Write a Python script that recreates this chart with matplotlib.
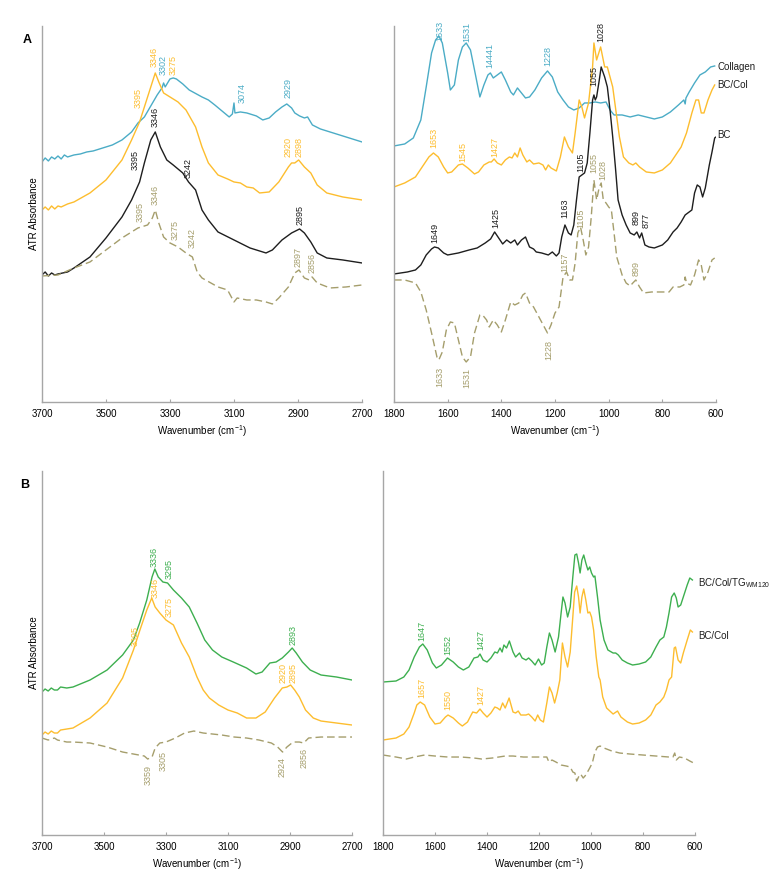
import matplotlib
matplotlib.use("Agg")
import matplotlib.pyplot as plt

plt.rcParams["font.family"] = ["Liberation Sans", "DejaVu Sans"]
plt.rcParams["mathtext.fontset"] = "custom"
plt.rcParams["mathtext.rm"] = "Liberation Sans"
plt.rcParams["mathtext.it"] = "Liberation Sans"

BLUE = "#4bacc6"
YELLOW = "#fdbd2e"
BLACK = "#1e1e1e"
OLIVE = "#a59e6c"
GREEN = "#3daf4f"
SPINE = "#a6a6a6"

# ---------------- panel A, 3700-2700 ----------------
a_hi_col_wn = [3700, 3690, 3680, 3670, 3660, 3650, 3640, 3630, 3620, 3600, 3580, 3560, 3540, 3520, 3500, 3480,
               3450, 3420, 3400, 3380, 3360, 3340, 3325, 3320, 3315, 3300, 3290, 3280, 3260, 3240, 3200, 3180,
               3160, 3130, 3115, 3105, 3100, 3097, 3080, 3060, 3030, 3010, 2990, 2970, 2950, 2935, 2920, 2910,
               2895, 2880, 2870, 2855, 2830, 2800, 2750, 2700]
a_hi_col = [240, 244, 241, 245, 243, 246, 243, 247, 245, 247, 248, 250, 251, 253, 255, 257,
            262, 270, 279, 285, 296, 307, 314, 319, 315, 323, 324, 323, 318, 312, 305, 302,
            297, 289, 285, 288, 299, 289, 290, 289, 286, 282, 284, 290, 295, 298, 294, 289,
            286, 284, 285, 277, 273, 270, 265, 260]

a_hi_bccol_wn = [3700, 3690, 3680, 3670, 3660, 3650, 3640, 3620, 3600, 3550, 3500, 3450, 3420, 3395, 3380, 3360,
                 3346, 3335, 3320, 3300, 3275, 3250, 3220, 3200, 3180, 3150, 3120, 3100, 3080, 3060, 3040, 3020,
                 2990, 2960, 2930, 2920, 2910, 2898, 2880, 2860, 2840, 2810, 2760, 2700]
a_hi_bccol = [192, 195, 192, 196, 193, 196, 195, 198, 200, 209, 222, 242, 262, 280, 295, 315,
              329, 320, 309, 305, 300, 292, 275, 255, 239, 227, 223, 220, 219, 215, 214, 209,
              210, 220, 235, 239, 239, 242, 235, 229, 217, 209, 205, 202]

a_hi_bc_wn = [3700, 3690, 3680, 3670, 3660, 3650, 3620, 3600, 3550, 3500, 3450, 3420, 3395, 3380, 3360, 3346,
              3330, 3310, 3290, 3260, 3242, 3220, 3200, 3180, 3150, 3100, 3050, 3000, 2980, 2950, 2920, 2895,
              2880, 2860, 2840, 2810, 2760, 2700]
a_hi_bc = [127, 130, 126, 129, 127, 128, 130, 134, 145, 164, 185, 202, 220, 239, 262, 270,
           255, 242, 237, 229, 220, 212, 192, 182, 170, 162, 154, 149, 152, 162, 169, 173,
           169, 160, 149, 144, 142, 139]

a_hi_diff_wn = [3700, 3650, 3600, 3550, 3500, 3450, 3400, 3370, 3355, 3346, 3335, 3320, 3300, 3275, 3250, 3230,
                3215, 3200, 3150, 3120, 3100, 3090, 3060, 3030, 3000, 2980, 2960, 2930, 2910, 2897, 2880, 2865,
                2856, 2840, 2800, 2750, 2700]
a_hi_diff = [126, 127, 134, 140, 152, 164, 174, 177, 184, 192, 179, 165, 159, 155, 149, 145,
             130, 124, 115, 112, 100, 104, 102, 102, 100, 98, 104, 115, 129, 132, 124, 122,
             125, 119, 114, 115, 117]

# ---------------- panel A, 1800-600 ----------------
a_lo_col_wn = [1800, 1760, 1728, 1700, 1680, 1660, 1645, 1633, 1620, 1600, 1590, 1575, 1560, 1545, 1531, 1515,
               1500, 1480, 1465, 1450, 1441, 1430, 1415, 1400, 1385, 1365, 1355, 1340, 1325, 1310, 1295, 1275,
               1250, 1228, 1210, 1190, 1170, 1150, 1130, 1110, 1090, 1070, 1050, 1030, 1010, 995, 980, 950,
               920, 890, 860, 830, 800, 770, 740, 720, 715, 712, 700, 680, 660, 640, 620, 605]
a_lo_col = [256, 258, 264, 282, 315, 349, 362, 366, 359, 329, 312, 317, 342, 355, 359, 352,
            332, 305, 317, 327, 329, 324, 327, 330, 322, 310, 307, 314, 309, 304, 305, 312,
            324, 331, 325, 310, 302, 295, 292, 294, 299, 299, 300, 299, 300, 292, 287, 287,
            285, 287, 285, 283, 285, 290, 297, 302, 298, 304, 310, 319, 327, 330, 335, 336]

a_lo_bccol_wn = [1800, 1760, 1720, 1690, 1670, 1653, 1635, 1615, 1600, 1585, 1560, 1545, 1525, 1500, 1485, 1465,
                 1445, 1437, 1427, 1415, 1400, 1385, 1370, 1360, 1350, 1340, 1330, 1320, 1305, 1295, 1280, 1260,
                 1245, 1235, 1225, 1215, 1195, 1180, 1165, 1150, 1135, 1125, 1110, 1100, 1090, 1075, 1060, 1055,
                 1045, 1030, 1015, 1005, 995, 985, 975, 960, 945, 925, 910, 899, 885, 860, 830, 800,
                 770, 750, 730, 710, 690, 675, 665, 655, 645, 630, 615, 605]
a_lo_bccol = [215, 219, 225, 237, 245, 249, 245, 235, 229, 230, 237, 238, 234, 228, 230, 237,
              240, 240, 243, 239, 237, 242, 245, 244, 249, 245, 254, 247, 240, 242, 238, 239,
              237, 232, 237, 234, 231, 245, 265, 255, 249, 269, 302, 295, 284, 299, 335, 359,
              342, 355, 335, 335, 325, 315, 295, 265, 245, 239, 237, 239, 235, 230, 229, 232,
              239, 247, 255, 269, 289, 302, 302, 289, 289, 302, 312, 317]

a_lo_bc_wn = [1800, 1750, 1720, 1700, 1680, 1660, 1649, 1635, 1615, 1600, 1560, 1520, 1490, 1460, 1440, 1425,
              1410, 1395, 1380, 1365, 1350, 1340, 1325, 1310, 1295, 1280, 1270, 1250, 1225, 1210, 1195, 1185,
              1175, 1163, 1150, 1140, 1130, 1120, 1110, 1100, 1090, 1080, 1070, 1060, 1055, 1050, 1045, 1035,
              1028, 1015, 1005, 995, 985, 975, 965, 950, 935, 920, 905, 895, 885, 877, 865, 850,
              830, 800, 780, 760, 745, 730, 715, 700, 690, 680, 670, 660, 650, 640, 625, 615,
              605, 600]
a_lo_bc = [128, 130, 132, 137, 147, 153, 155, 154, 149, 147, 149, 152, 154, 159, 163, 170,
           164, 158, 162, 159, 162, 157, 162, 165, 155, 153, 150, 149, 147, 150, 146, 149,
           165, 177, 169, 167, 177, 202, 225, 227, 229, 239, 269, 302, 307, 302, 305, 322,
           335, 325, 315, 292, 265, 235, 202, 187, 177, 169, 167, 170, 164, 169, 157, 155,
           154, 157, 162, 170, 174, 180, 187, 190, 192, 209, 217, 215, 205, 214, 237, 250,
           264, 265]

a_lo_diff_wn = [1800, 1760, 1720, 1700, 1680, 1660, 1640, 1633, 1620, 1605, 1590, 1575, 1560, 1545, 1531, 1515,
                1500, 1480, 1470, 1455, 1445, 1430, 1415, 1400, 1385, 1365, 1350, 1335, 1320, 1310, 1295, 1280,
                1260, 1240, 1228, 1215, 1200, 1185, 1170, 1157, 1145, 1135, 1125, 1115, 1105, 1095, 1085, 1075,
                1065, 1055, 1045, 1035, 1028, 1020, 1010, 1000, 990, 980, 970, 950, 935, 920, 910, 899,
                885, 870, 840, 800, 775, 760, 735, 720, 715, 710, 695, 680, 665, 655, 645, 630,
                615, 605]
a_lo_diff = [122, 122, 119, 110, 92, 69, 45, 42, 50, 72, 80, 79, 62, 45, 40, 45,
             69, 87, 87, 82, 75, 82, 77, 70, 82, 100, 97, 99, 107, 109, 99, 95,
             85, 75, 69, 77, 89, 95, 125, 130, 122, 122, 139, 169, 175, 162, 147, 155,
             185, 222, 202, 215, 219, 202, 199, 195, 192, 169, 145, 127, 119, 116, 119, 122,
             115, 109, 110, 110, 110, 115, 115, 117, 125, 119, 117, 127, 142, 137, 122, 130,
             142, 144]

# ---------------- panel B, 3700-2700 ----------------
b_hi_tg_wn = [3700, 3690, 3680, 3670, 3660, 3650, 3640, 3620, 3600, 3545, 3490, 3440, 3405, 3385, 3362, 3345,
              3336, 3325, 3310, 3295, 3276, 3250, 3225, 3200, 3175, 3150, 3120, 3083, 3040, 3010, 2990, 2965,
              2945, 2925, 2905, 2893, 2880, 2860, 2835, 2800, 2750, 2700]
b_hi_tg = [143, 146, 144, 147, 145, 145, 148, 147, 148, 155, 165, 180, 195, 212, 235, 258,
           266, 258, 253, 252, 245, 237, 228, 212, 195, 185, 178, 173, 167, 161, 163, 172,
           173, 177, 183, 187, 182, 173, 165, 160, 158, 155]

b_hi_bccol_wn = [3700, 3690, 3680, 3670, 3660, 3650, 3640, 3600, 3545, 3490, 3440, 3405, 3384, 3362, 3346, 3335,
                 3320, 3300, 3276, 3250, 3225, 3200, 3180, 3160, 3130, 3100, 3070, 3040, 3010, 2980, 2950, 2925,
                 2910, 2898, 2885, 2870, 2850, 2825, 2800, 2750, 2700]
b_hi_bccol = [100, 103, 101, 104, 102, 102, 105, 107, 117, 132, 157, 185, 205, 225, 237, 228,
              222, 215, 210, 192, 178, 158, 145, 137, 130, 125, 122, 117, 117, 123, 137, 147,
              148, 150, 145, 138, 125, 117, 114, 112, 110]

b_hi_diff_wn = [3700, 3680, 3660, 3650, 3620, 3600, 3545, 3490, 3440, 3405, 3370, 3359, 3345, 3335, 3320, 3300,
                3270, 3240, 3210, 3180, 3150, 3120, 3080, 3040, 3000, 2960, 2940, 2924, 2910, 2890, 2870, 2856,
                2840, 2800, 2750, 2700]
b_hi_diff = [97, 95, 97, 95, 93, 93, 92, 88, 83, 81, 79, 76, 78, 87, 92, 93,
             97, 102, 104, 102, 101, 100, 98, 97, 95, 92, 88, 83, 88, 93, 93, 92,
             97, 98, 98, 98]

# ---------------- panel B, 1800-600 ----------------
b_lo_tg_wn = [1800, 1750, 1720, 1700, 1680, 1660, 1647, 1630, 1610, 1595, 1575, 1552, 1530, 1510, 1491, 1470,
              1450, 1435, 1427, 1415, 1400, 1385, 1370, 1360, 1350, 1342, 1335, 1325, 1314, 1300, 1290, 1275,
              1265, 1250, 1240, 1228, 1215, 1202, 1190, 1180, 1170, 1160, 1150, 1138, 1125, 1115, 1108, 1100,
              1090, 1080, 1070, 1062, 1055, 1048, 1042, 1035, 1028, 1020, 1012, 1005, 998, 990, 985, 975,
              965, 950, 935, 915, 905, 895, 880, 860, 840, 815, 790, 770, 750, 735, 720, 710,
              700, 690, 680, 672, 665, 655, 645, 630, 620, 610]
b_lo_tg = [153, 154, 158, 165, 178, 188, 191, 185, 172, 167, 170, 177, 173, 168, 165, 168,
           177, 178, 181, 175, 173, 177, 183, 182, 187, 183, 190, 187, 194, 183, 178, 182,
           177, 175, 177, 174, 170, 176, 170, 172, 188, 202, 195, 183, 198, 222, 238, 232,
           218, 228, 258, 280, 281, 272, 262, 275, 280, 272, 265, 268, 262, 258, 259, 238,
           215, 195, 185, 182, 182, 180, 175, 172, 170, 171, 173, 178, 188, 195, 198, 208,
           222, 238, 242, 237, 228, 230, 238, 250, 257, 255]

b_lo_bccol_wn = [1800, 1750, 1720, 1700, 1680, 1670, 1657, 1640, 1620, 1600, 1580, 1560, 1550, 1530, 1510, 1495,
                 1475, 1455, 1440, 1427, 1415, 1400, 1385, 1370, 1360, 1350, 1340, 1330, 1315, 1300, 1290, 1280,
                 1270, 1250, 1240, 1228, 1215, 1205, 1195, 1183, 1170, 1160, 1150, 1140, 1130, 1120, 1110, 1100,
                 1090, 1080, 1070, 1063, 1055, 1048, 1042, 1035, 1028, 1020, 1012, 1005, 998, 990, 980, 970,
                 965, 955, 940, 915, 898, 885, 860, 840, 815, 790, 770, 750, 735, 720, 710, 700,
                 690, 680, 675, 665, 655, 645, 630, 618, 610]
b_lo_bccol = [95, 97, 101, 108, 122, 130, 133, 130, 118, 111, 112, 118, 120, 117, 112, 109,
              113, 123, 122, 126, 122, 118, 122, 128, 127, 125, 132, 127, 137, 123, 122, 124,
              120, 120, 121, 118, 114, 120, 115, 113, 132, 148, 142, 132, 142, 155, 192, 178,
              168, 183, 218, 243, 249, 238, 222, 238, 246, 235, 222, 223, 218, 205, 178, 158,
              155, 138, 127, 121, 124, 118, 113, 111, 112, 115, 120, 130, 133, 138, 145, 155,
              158, 187, 188, 175, 172, 182, 195, 205, 203]

b_lo_diff_wn = [1800, 1750, 1710, 1680, 1640, 1600, 1550, 1500, 1450, 1420, 1380, 1330, 1300, 1260, 1220, 1185,
                1170, 1162, 1150, 1135, 1115, 1095, 1080, 1070, 1062, 1055, 1048, 1040, 1030, 1020, 1005, 995,
                985, 975, 965, 950, 920, 890, 850, 800, 750, 700, 685, 678, 672, 660, 640, 620,
                605]
b_lo_diff = [80, 78, 76, 78, 80, 79, 78, 78, 77, 76, 77, 79, 79, 78, 78, 78,
             78, 73, 75, 73, 70, 69, 68, 63, 62, 54, 58, 61, 57, 60, 67, 72,
             83, 88, 89, 87, 84, 82, 81, 80, 79, 78, 78, 82, 75, 78, 77, 74,
             72]

# peak annotations: (wavenumber, height, text, colour, above?)
a_hi_peaks = [(3350, 335, "3346", YELLOW, True), (3321, 327, "3302", BLUE, True), (3290, 327, "3275", YELLOW, True),
              (3399, 294, "3395", YELLOW, True), (3074, 299, "3074", BLUE, True), (2930, 304, "2929", BLUE, True),
              (3346, 275, "3346", BLACK, True), (3409, 232, "3395", BLACK, True), (3243, 224, "3242", BLACK, True),
              (2930, 245, "2920", YELLOW, True), (2897, 245, "2898", YELLOW, True), (2894, 177, "2895", BLACK, True),
              (3393, 180, "3395", OLIVE, True), (3346, 197, "3346", OLIVE, True), (3285, 162, "3275", OLIVE, True),
              (3230, 154, "3242", OLIVE, True), (2900, 135, "2897", OLIVE, True), (2857, 129, "2856", OLIVE, True)]
a_lo_peaks = [(1631, 361, "1633", BLUE, True), (1527, 360, "1531", BLUE, True), (1442, 334, "14441", BLUE, True),
              (1225, 336, "1228", BLUE, True), (1029, 360, "1028", BLACK, True), (1054, 316, "1055", BLACK, True),
              (1651, 254, "1653", YELLOW, True), (1545, 240, "1545", YELLOW, True), (1424, 245, "1427", YELLOW, True),
              (1102, 230, "1105", BLACK, True), (1057, 229, "1055", OLIVE, True), (1022, 222, "1028", OLIVE, True),
              (1162, 184, "1163", BLACK, True), (1102, 174, "1105", OLIVE, True), (1422, 174, "1425", BLACK, True),
              (1647, 159, "1649", BLACK, True), (896, 177, "899", BLACK, True), (860, 174, "877", BLACK, True),
              (1162, 130, "1157", OLIVE, True), (896, 126, "899", OLIVE, True),
              (1630, 35, "1633", OLIVE, False), (1527, 34, "1531", OLIVE, False), (1223, 62, "1228", OLIVE, False)]
b_hi_peaks = [(3339, 268, "3336", GREEN, True), (3289, 256, "3295", GREEN, True), (3336, 237, "3346", YELLOW, True),
              (3289, 218, "3275", YELLOW, True), (3400, 189, "3395", YELLOW, True), (2891, 190, "2893", GREEN, True),
              (2922, 152, "2920", YELLOW, True), (2889, 152, "2895", YELLOW, True),
              (3357, 70, "3359", OLIVE, False), (3308, 84, "3305", OLIVE, False),
              (2927, 78, "2924", OLIVE, False), (2856, 87, "2856", OLIVE, False)]
b_lo_peaks = [(1652, 194, "1647", GREEN, True), (1549, 180, "1552", GREEN, True), (1423, 185, "1427", GREEN, True),
              (1649, 137, "1657", YELLOW, True), (1549, 125, "1550", YELLOW, True), (1423, 130, "1427", YELLOW, True)]

a_lo_names = [("Collagen", 335), ("BC/Col", 317), ("BC", 267)]
b_lo_names = [("BC/Col/TG$_{\\mathrm{WM120}}$", 252), ("BC/Col", 199)]

hi_ticks = [3700, 3500, 3300, 3100, 2900, 2700]
lo_ticks = [1800, 1600, 1400, 1200, 1000, 800, 600]

fig = plt.figure(figsize=(7.73, 8.8), dpi=100)


def make_ax(rect, xlim, ticks, ytop, ylabel):
  ax = fig.add_axes(rect)
  ax.set_xlim(*xlim)
  ax.set_ylim(0, ytop)
  ax.set_xticks(ticks)
  ax.set_yticks([])
  for s in ["top", "right"]:
    ax.spines[s].set_visible(False)
  for s in ["left", "bottom"]:
    ax.spines[s].set_color(SPINE)
    ax.spines[s].set_linewidth(1.0)
  ax.tick_params(axis="x", direction="in", length=2.5, color=SPINE, labelsize=7, pad=5)
  ax.set_xlabel("Wavenumber (cm$^{-1}$)", fontsize=7, labelpad=3)
  if ylabel:
    ax.set_ylabel("ATR Absorbance", fontsize=7, labelpad=2)
  return ax


def solid(ax, x, y, c):
  ax.plot(x, y, color=c, lw=1.0, solid_joinstyle="round")


def dashed(ax, x, y):
  ax.plot(x, y, color=OLIVE, lw=1.0, dashes=(5.5, 2.8))


def peaks(ax, lst):
  for wn, h, t, c, up in lst:
    ax.text(wn, h, t, color=c, fontsize=6.5, rotation=90, ha="center",
            va="bottom" if up else "top")


ax1 = make_ax([0.0543, 0.5432, 0.414, 0.4273], (3700, 2700), hi_ticks, 376, True)
solid(ax1, a_hi_col_wn, a_hi_col, BLUE)
solid(ax1, a_hi_bccol_wn, a_hi_bccol, YELLOW)
solid(ax1, a_hi_bc_wn, a_hi_bc, BLACK)
dashed(ax1, a_hi_diff_wn, a_hi_diff)
peaks(ax1, a_hi_peaks)

ax2 = make_ax([0.5097, 0.5432, 0.4166, 0.4273], (1800, 600), lo_ticks, 376, False)
solid(ax2, a_lo_col_wn, a_lo_col, BLUE)
solid(ax2, a_lo_bccol_wn, a_lo_bccol, YELLOW)
solid(ax2, a_lo_bc_wn, a_lo_bc, BLACK)
dashed(ax2, a_lo_diff_wn, a_lo_diff)
peaks(ax2, a_lo_peaks)
for name, h in a_lo_names:
  ax2.text(595, h, name, fontsize=7, color=BLACK, ha="left", va="center", clip_on=False)

ax3 = make_ax([0.0543, 0.0511, 0.4011, 0.4137], (3700, 2700), hi_ticks, 364, True)
solid(ax3, b_hi_tg_wn, b_hi_tg, GREEN)
solid(ax3, b_hi_bccol_wn, b_hi_bccol, YELLOW)
dashed(ax3, b_hi_diff_wn, b_hi_diff)
peaks(ax3, b_hi_peaks)

ax4 = make_ax([0.4955, 0.0511, 0.4036, 0.4137], (1800, 600), lo_ticks, 364, False)
solid(ax4, b_lo_tg_wn, b_lo_tg, GREEN)
solid(ax4, b_lo_bccol_wn, b_lo_bccol, YELLOW)
dashed(ax4, b_lo_diff_wn, b_lo_diff)
peaks(ax4, b_lo_peaks)
for name, h in b_lo_names:
  ax4.text(588, h, name, fontsize=7, color=BLACK, ha="left", va="center", clip_on=False)

fig.text(27 / 773, 1 - 40 / 880, "A", fontsize=9, fontweight="bold", ha="center", va="center")
fig.text(25 / 773, 1 - 485 / 880, "B", fontsize=9, fontweight="bold", ha="center", va="center")

fig.savefig("out.png", dpi=100)
